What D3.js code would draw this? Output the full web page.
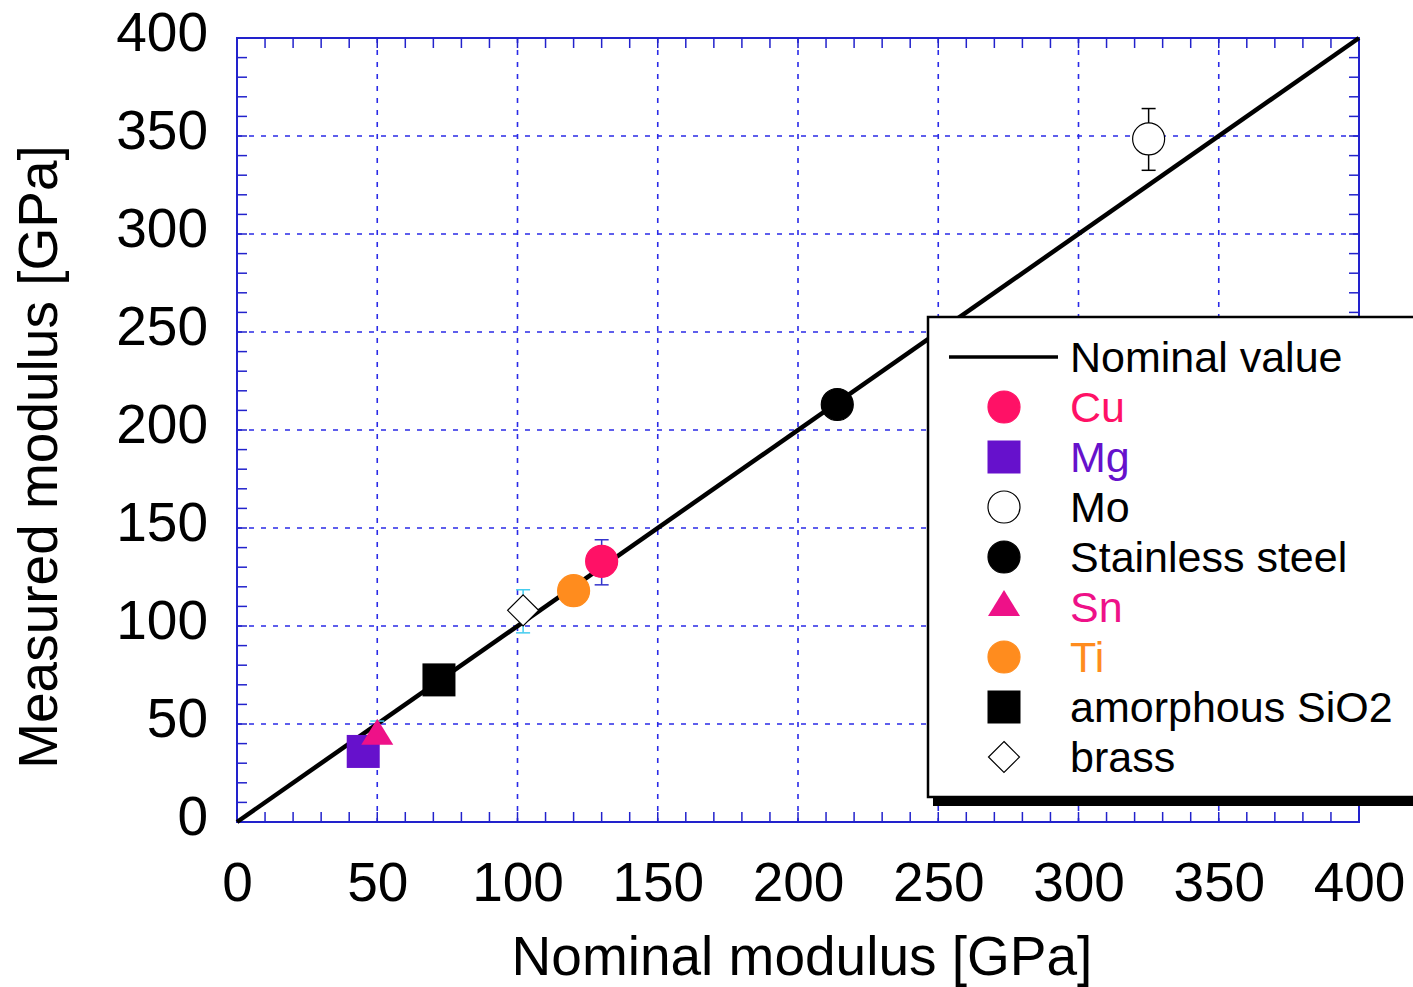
<!DOCTYPE html>
<html>
<head>
<meta charset="utf-8">
<script src="https://cdn.jsdelivr.net/npm/d3@7"></script>
<style>
  body { margin: 0; background: #fff; }
  text { font-family: "Liberation Sans", Arial, sans-serif; }
</style>
</head>
<body>
<svg id="chart" width="1413" height="987"></svg>
<script>
// data
var materials = ["Cu", "Mg", "Mo", "Stainless steel", "Sn", "Ti", "amorphous SiO2", "brass"];
var nominal   = [130, 45, 325, 214, 50, 120, 72, 102];
var measured  = [133, 36, 348.5, 213, 44, 118, 72.5, 108];
var errLow    = [121, null, 332.5, null, null, null, null, 96.5];
var errHigh   = [144, null, 364, null, 51.5, null, null, 118.5];
var shapes    = ["circle", "square", "circle", "circle", "triangle", "circle", "square", "diamond"];
var fills     = ["#ff1166", "#6611cc", "#ffffff", "#000000", "#ee1188", "#ff8c1e", "#000000", "#ffffff"];
var textCols  = ["#ff1166", "#6611cc", "#000000", "#000000", "#ee1188", "#ff8c1e", "#000000", "#000000"];
var errCols   = ["#3333cc", null, "#000000", null, "#44ccee", null, null, "#44ccee"];
var ticks     = [0, 50, 100, 150, 200, 250, 300, 350, 400];

var svg = d3.select("#chart");
var pLeft = 237, pRight = 1359, pTop = 38, pBottom = 822;

var x = d3.scaleLinear().domain([0, 400]).range([pLeft, pRight]);
var y = d3.scaleLinear().domain([0, 400]).range([pBottom, pTop]);

var blue = "#2222cc";

// grid
var grid = svg.append("g").attr("stroke", "#2a2ae6").attr("stroke-width", 1.6)
    .attr("stroke-dasharray", "5,7");
grid.selectAll(".gx").data(ticks.slice(1, -1)).enter().append("line")
    .attr("x1", function(d){ return x(d); }).attr("x2", function(d){ return x(d); })
    .attr("y1", pTop).attr("y2", pBottom);
grid.selectAll(".gy").data(ticks.slice(1, -1)).enter().append("line")
    .attr("y1", function(d){ return y(d); }).attr("y2", function(d){ return y(d); })
    .attr("x1", pLeft).attr("x2", pRight);

// inward ticks on all four sides, every 10
var minor = d3.range(0, 401, 10);
var tk = svg.append("g").attr("stroke", blue).attr("stroke-width", 1.5);
minor.forEach(function(v){
    var len = 10;
    tk.append("line").attr("x1", x(v)).attr("x2", x(v)).attr("y1", pBottom).attr("y2", pBottom - len);
    tk.append("line").attr("x1", x(v)).attr("x2", x(v)).attr("y1", pTop).attr("y2", pTop + len);
    tk.append("line").attr("y1", y(v)).attr("y2", y(v)).attr("x1", pLeft).attr("x2", pLeft + len);
    tk.append("line").attr("y1", y(v)).attr("y2", y(v)).attr("x1", pRight).attr("x2", pRight - len);
});

svg.append("rect").attr("x", pLeft).attr("y", pTop)
    .attr("width", pRight - pLeft).attr("height", pBottom - pTop)
    .attr("fill", "none").attr("stroke", blue).attr("stroke-width", 2);

// tick labels via axes
var xAxis = svg.append("g").attr("transform", "translate(0," + pBottom + ")")
    .call(d3.axisBottom(x).tickValues(ticks).tickSize(0).tickPadding(40));
var yAxis = svg.append("g").attr("transform", "translate(" + pLeft + ",0)")
    .call(d3.axisLeft(y).tickValues(ticks).tickSize(0).tickPadding(29));
[xAxis, yAxis].forEach(function(a){
    a.select(".domain").remove();
    a.selectAll("text").attr("font-size", 55).attr("fill", "#000")
        .attr("font-family", "Liberation Sans, Arial, sans-serif");
});
yAxis.selectAll("text").attr("dy", "0.23em");

// axis titles
svg.append("text").attr("x", 802).attr("y", 975).attr("text-anchor", "middle")
    .attr("font-size", 55).text("Nominal modulus [GPa]");
svg.append("text").attr("transform", "translate(57,457) rotate(-90)")
    .attr("text-anchor", "middle").attr("font-size", 55).text("Measured modulus [GPa]");

// nominal line
svg.append("line").attr("x1", x(0)).attr("y1", y(0)).attr("x2", x(400)).attr("y2", y(400))
    .attr("stroke", "#000").attr("stroke-width", 4.5);

function marker(g, shape, fill) {
    if (shape === "circle") {
        g.append("circle").attr("r", 16).attr("fill", fill)
            .attr("stroke", fill === "#ffffff" ? "#000" : fill).attr("stroke-width", 1.2);
    } else if (shape === "square") {
        g.append("rect").attr("x", -16.5).attr("y", -16.5).attr("width", 33).attr("height", 33)
            .attr("fill", fill);
    } else if (shape === "triangle") {
        g.append("path").attr("d", "M0,-17 L16,9 L-16,9 Z").attr("fill", fill);
    } else if (shape === "diamond") {
        g.append("path").attr("d", "M0,-15.5 L15.5,0 L0,15.5 L-15.5,0 Z")
            .attr("fill", fill).attr("stroke", "#000").attr("stroke-width", 1.2);
    }
}

// error bars
materials.forEach(function(m, i){
    if (errHigh[i] === null) return;
    var cx = x(nominal[i]);
    var lo = errLow[i] === null ? measured[i] : errLow[i];
    var eg = svg.append("g").attr("stroke", errCols[i]).attr("stroke-width", 1.5);
    eg.append("line").attr("x1", cx).attr("x2", cx).attr("y1", y(lo)).attr("y2", y(errHigh[i]));
    eg.append("line").attr("x1", cx - 7).attr("x2", cx + 7).attr("y1", y(errHigh[i])).attr("y2", y(errHigh[i]));
    if (errLow[i] !== null)
        eg.append("line").attr("x1", cx - 7).attr("x2", cx + 7).attr("y1", y(lo)).attr("y2", y(lo));
});

// points
materials.forEach(function(m, i){
    var g = svg.append("g").attr("transform", "translate(" + x(nominal[i]) + "," + y(measured[i]) + ")");
    marker(g, shapes[i], fills[i]);
});

// legend
var lg = svg.append("g");
lg.append("rect").attr("x", 933).attr("y", 322).attr("width", 500).attr("height", 484).attr("fill", "#000");
lg.append("rect").attr("x", 928).attr("y", 317).attr("width", 500).attr("height", 480)
    .attr("fill", "#fff").attr("stroke", "#000").attr("stroke-width", 2.5);
lg.append("line").attr("x1", 949).attr("x2", 1058).attr("y1", 357).attr("y2", 357)
    .attr("stroke", "#000").attr("stroke-width", 3.5);
lg.append("text").attr("x", 1070).attr("y", 357).attr("dy", "0.36em").attr("font-size", 43)
    .text("Nominal value");
materials.forEach(function(m, i){
    var yy = 407 + i * 50;
    var g = lg.append("g").attr("transform", "translate(1004," + yy + ")");
    marker(g, shapes[i], fills[i]);
    lg.append("text").attr("x", 1070).attr("y", yy).attr("dy", "0.36em").attr("font-size", 43)
        .attr("fill", textCols[i]).text(m);
});
</script>
</body>
</html>
